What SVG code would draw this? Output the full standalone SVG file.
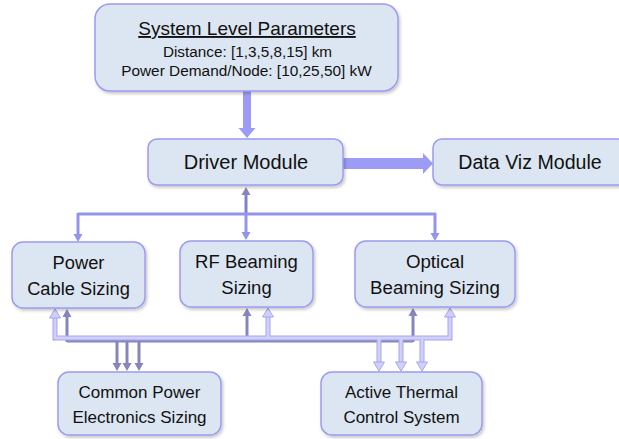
<svg xmlns="http://www.w3.org/2000/svg" width="619" height="439" viewBox="0 0 619 439">
<defs>
<filter id="sh" x="-10%" y="-10%" width="125%" height="130%">
<feDropShadow dx="1.5" dy="2" stdDeviation="1.5" flood-color="#000" flood-opacity="0.22"/>
</filter>
<marker id="hd" markerUnits="userSpaceOnUse" markerWidth="12" markerHeight="12" viewBox="0 -6 10 12" refX="0" refY="0" orient="auto" overflow="visible">
<path d="M0,-4.5 L8,0 L0,4.5 Z" fill="#8686bc"/>
</marker>
<marker id="hm" markerUnits="userSpaceOnUse" markerWidth="12" markerHeight="12" viewBox="0 -6 10 12" refX="0" refY="0" orient="auto" overflow="visible">
<path d="M0,-4.5 L8,0 L0,4.5 Z" fill="#9494ec"/>
</marker>
<marker id="hl" markerUnits="userSpaceOnUse" markerWidth="14" markerHeight="14" viewBox="0 -7 12 14" refX="0" refY="0" orient="auto" overflow="visible">
<path d="M0,-5.5 L9,0 L0,5.5 Z" fill="#d0d0fa" stroke="#a6a6ec" stroke-width="1"/>
</marker>
</defs>
<style>
.box{fill:#dce6f2;stroke:#9c9cee;stroke-width:1.5;filter:url(#sh)}
text{font-family:"Liberation Sans",Arial,sans-serif;fill:#111;text-anchor:middle}
.dk{fill:none;stroke:#8686bc;stroke-width:3}
.md{fill:none;stroke:#9494ec;stroke-width:3}
.lo{fill:none;stroke:#a6a6ec;stroke-width:5}
.li{fill:none;stroke:#d0d0fa;stroke-width:3}
.thick{fill:#9c9cf6}
</style>
<g id="connectors">
<polygon class="thick" points="243,91 251,91 251,128 255.5,128 247,138 238.5,128 243,128"/>
<polygon class="thick" points="343,158 423,158 423,153 433,163.5 423,174 423,169 343,169"/>
<path class="dk" d="M246,214 L246,195" marker-end="url(#hd)" style="stroke:#8080d0"/>
<path class="md" d="M78,214 L436,214"/>
<path class="md" d="M78,213 L78,234" marker-end="url(#hm)"/>
<path class="md" d="M246,214 L246,232" marker-end="url(#hm)"/>
<path class="md" d="M435,213 L435,233" marker-end="url(#hm)"/>
<path class="dk" d="M67,341 L413,341"/>
<path class="dk" d="M67,342 L67,317" marker-end="url(#hd)"/>
<path class="dk" d="M247,342 L247,316" marker-end="url(#hd)"/>
<path class="dk" d="M413,342 L413,316" marker-end="url(#hd)"/>
<path class="dk" d="M117,340 L117,363" marker-end="url(#hd)"/>
<path class="dk" d="M127,340 L127,363" marker-end="url(#hd)"/>
<path class="dk" d="M139,340 L139,363" marker-end="url(#hd)"/>
<path class="lo" d="M55,318 L55,338 L450,338 L450,317 M379,338 L379,362 M401,338 L401,362 M422,338 L422,362 M268,338 L268,317"/>
<path class="li" d="M55,338 L450,338"/>
<path class="li" d="M55,339 L55,318" marker-end="url(#hl)"/>
<path class="li" d="M268,339 L268,317" marker-end="url(#hl)"/>
<path class="li" d="M450,339 L450,317" marker-end="url(#hl)"/>
<path class="li" d="M379,337 L379,362" marker-end="url(#hl)"/>
<path class="li" d="M401,337 L401,362" marker-end="url(#hl)"/>
<path class="li" d="M422,337 L422,362" marker-end="url(#hl)"/>
</g>
<g id="system-level-parameters">
<rect class="box" x="95" y="4" width="303" height="87" rx="15"/>
<text x="247" y="35" font-size="19" text-decoration="underline">System Level Parameters</text>
<text x="247.5" y="57" font-size="15.3">Distance: [1,3,5,8,15] km</text>
<text x="246.5" y="76" font-size="15.4">Power Demand/Node: [10,25,50] kW</text>
</g>
<g id="driver-module">
<rect class="box" x="148" y="139" width="195" height="46" rx="9"/>
<text x="246" y="169" font-size="20">Driver Module</text>
</g>
<g id="data-viz-module">
<rect class="box" x="433" y="139" width="194" height="46" rx="9"/>
<text x="530" y="169" font-size="19.6">Data Viz Module</text>
</g>
<g id="power-cable-sizing">
<rect class="box" x="12" y="242" width="133" height="66" rx="11"/>
<text x="78.5" y="269" font-size="18.3">Power</text>
<text x="78.5" y="295" font-size="18.3">Cable Sizing</text>
</g>
<g id="rf-beaming-sizing">
<rect class="box" x="180" y="241" width="133" height="66" rx="11"/>
<text x="246.5" y="268" font-size="18.5">RF Beaming</text>
<text x="246.5" y="294" font-size="18.5">Sizing</text>
</g>
<g id="optical-beaming-sizing">
<rect class="box" x="355" y="241" width="160" height="66" rx="11"/>
<text x="435" y="268" font-size="18.7">Optical</text>
<text x="435" y="294" font-size="18.7">Beaming Sizing</text>
</g>
<g id="common-power-electronics-sizing">
<rect class="box" x="58" y="372" width="163" height="63" rx="11"/>
<text x="139.5" y="398" font-size="17">Common Power</text>
<text x="139.5" y="423" font-size="17">Electronics Sizing</text>
</g>
<g id="active-thermal-control-system">
<rect class="box" x="321" y="372" width="161" height="63" rx="11"/>
<text x="401.5" y="398" font-size="17">Active Thermal</text>
<text x="401.5" y="423" font-size="17">Control System</text>
</g>
</svg>
